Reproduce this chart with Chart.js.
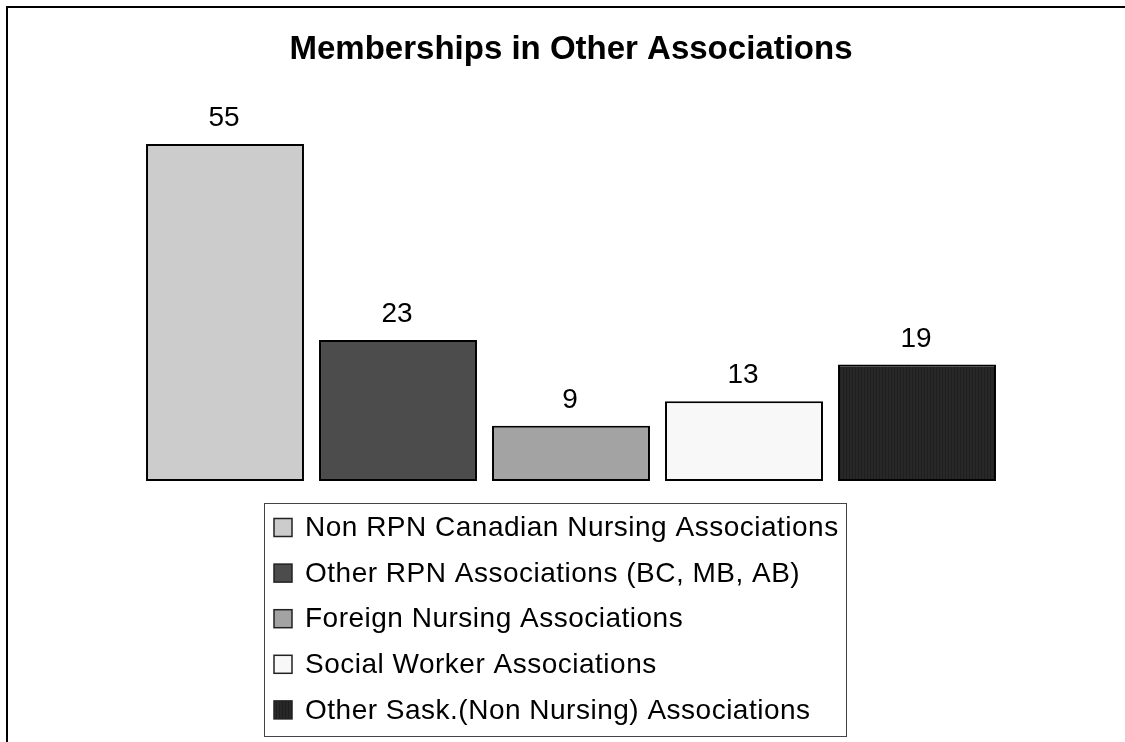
<!DOCTYPE html>
<html>
<head>
<meta charset="utf-8">
<script src="https://cdn.jsdelivr.net/npm/chart.js@4/dist/chart.umd.min.js"></script>
<style>
  html, body { margin: 0; padding: 0; background: #fff; }
  #wrap { width: 1125px; height: 742px; position: relative; }
</style>
</head>
<body>
<div id="wrap"><canvas id="barChart"></canvas></div>
<script>
const categories = [
  "Non RPN Canadian Nursing Associations",
  "Other RPN Associations (BC, MB, AB)",
  "Foreign Nursing Associations",
  "Social Worker Associations",
  "Other Sask.(Non Nursing) Associations"
];
const members = [55, 23, 9, 13, 19];
const yMax = 60;

// striped fill for the last bar
function stripes() {
  const c = document.createElement("canvas");
  c.width = 3; c.height = 3;
  const g = c.getContext("2d");
  g.fillStyle = "#282828";
  g.fillRect(0, 0, 3, 3);
  g.fillStyle = "#1e1e1e";
  g.fillRect(0, 0, 1, 3);
  return g.createPattern(c, "repeat");
}

const colors = ["#cccccc", "#4c4c4c", "#a3a3a3", "#f8f8f8", stripes()];

const FONT = "'Liberation Sans', Arial, sans-serif";

// frame around the chart
const framePlugin = {
  id: "frame",
  beforeDraw(chart) {
    const ctx = chart.ctx;
    ctx.save();
    ctx.strokeStyle = "#000";
    ctx.lineWidth = 2;
    ctx.beginPath();
    ctx.moveTo(7, 742);
    ctx.lineTo(7, 7);
    ctx.lineTo(1125, 7);
    ctx.stroke();
    ctx.restore();
  }
};

// numbers above bars
const valuePlugin = {
  id: "values",
  afterDatasetsDraw(chart) {
    const ctx = chart.ctx;
    const meta = chart.getDatasetMeta(0);
    ctx.save();
    ctx.font = "28px " + FONT;
    ctx.fillStyle = "#000";
    ctx.textAlign = "center";
    ctx.textBaseline = "alphabetic";
    meta.data.forEach((bar, i) => {
      ctx.fillText(String(members[i]), bar.x - 1, bar.y - 18);
    });
    ctx.restore();
  }
};

// boxed legend under the bars
const legendPlugin = {
  id: "boxLegend",
  afterDraw(chart) {
    const ctx = chart.ctx;
    const left = 264.5, top = 503.5, w = 582, h = 233;
    ctx.save();
    ctx.strokeStyle = "#444";
    ctx.lineWidth = 1;
    ctx.strokeRect(left, top, w, h);
    ctx.font = "28px " + FONT;
    ctx.letterSpacing = "0.5px";
    ctx.textBaseline = "middle";
    ctx.textAlign = "left";
    categories.forEach((label, i) => {
      const cy = 527.5 + i * 45.6;
      ctx.fillStyle = colors[i];
      ctx.fillRect(274, cy - 9, 18, 18);
      ctx.strokeStyle = "#222";
      ctx.lineWidth = 1.5;
      ctx.strokeRect(274, cy - 9, 18, 18);
      ctx.fillStyle = "#000";
      ctx.fillText(label, 305, cy + 1);
    });
    ctx.restore();
  }
};

new Chart(document.getElementById("barChart"), {
  type: "bar",
  data: {
    labels: categories,
    datasets: [{
      data: members,
      backgroundColor: colors,
      borderColor: "#000",
      borderWidth: 2,
      borderSkipped: false,
      barPercentage: 0.913,
      categoryPercentage: 1
    }]
  },
  options: {
    responsive: true,
    maintainAspectRatio: false,
    animation: false,
    events: [],
    layout: { padding: { left: 138.5, right: 121.5, top: 20, bottom: 261 } },
    scales: {
      x: { display: false },
      y: { display: false, min: 0, max: yMax }
    },
    plugins: {
      legend: { display: false },
      tooltip: { enabled: false },
      title: {
        display: true,
        text: "Memberships in Other Associations",
        color: "#000",
        font: { family: FONT, size: 33, weight: "bold", lineHeight: 1.2 },
        padding: { top: 10.2, bottom: 43.6 }
      }
    }
  },
  plugins: [framePlugin, valuePlugin, legendPlugin]
});
</script>
</body>
</html>
